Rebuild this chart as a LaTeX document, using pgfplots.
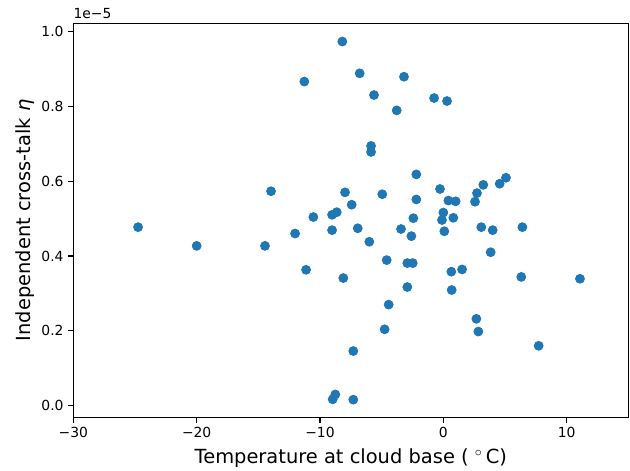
\documentclass[border=0pt]{standalone}
\usepackage{pgfplots}
\pgfplotsset{compat=1.18}
\usepackage{fontspec}
\setmainfont{DejaVu Sans}
\definecolor{tabblue}{HTML}{1F77B4}
\begin{document}
\begin{tikzpicture}
\begin{axis}[
  at={(0,0)}, anchor=south west,
  scale only axis, width=399.6pt, height=284pt,
  xmin=-30, xmax=15, ymin=-0.032, ymax=1.022,
  xtick={-30,-20,-10,0,10},
  xticklabels={−30,−20,−10,0,10},
  ytick={0,0.2,0.4,0.6,0.8,1.0},
  yticklabels={0.0,0.2,0.4,0.6,0.8,1.0},
  tick align=outside, xtick pos=left, ytick pos=left,
  major tick length=3.5pt,
  every tick/.style={black, line width=0.8pt},
  axis line style={line width=0.8pt},
  tick label style={font=\fontsize{10}{12}\selectfont},
  xlabel={Temperature at cloud base ( $^\circ$\,C)},
  ylabel={Independent cross-talk \textit{η}},
  label style={font=\fontsize{14}{16}\selectfont},
  xlabel style={yshift=-1pt},
  ylabel style={yshift=-2pt},
  clip=false,
]
\addplot[only marks, mark=*, mark size=3.2pt, color=tabblue, mark options={fill=tabblue, draw=tabblue, line width=0.6pt}] coordinates {
(-8.19,0.973) (-11.27,0.866) (-6.78,0.888) (-5.62,0.830) (-5.86,0.694)
(-5.86,0.678) (-13.97,0.573) (-7.97,0.570) (-7.43,0.537) (-10.54,0.504)
(-9.02,0.510) (-8.64,0.517) (-24.75,0.477) (-12.02,0.460) (-9.02,0.469)
(-6.94,0.474) (-6.0,0.438) (-3.19,0.879) (-3.78,0.789) (-0.75,0.822)
(0.30,0.814) (-2.19,0.618) (-4.95,0.565) (-0.27,0.579) (5.08,0.609)
(4.57,0.593) (3.24,0.590) (2.73,0.568) (2.57,0.545) (-2.19,0.551)
(0.41,0.548) (1.0,0.546) (0.0,0.516) (-0.11,0.496) (0.81,0.502)
(-2.43,0.501) (-3.43,0.472) (0.08,0.466) (3.08,0.477) (4.0,0.469)
(6.41,0.477) (-2.59,0.453) (3.84,0.410) (-4.59,0.389) (-2.92,0.381)
(-2.48,0.381) (0.65,0.358) (1.52,0.364) (-8.11,0.341) (6.32,0.344)
(11.08,0.339) (-2.92,0.317) (0.68,0.309) (-4.43,0.270) (2.68,0.232)
(-4.76,0.204) (2.84,0.198) (7.73,0.160) (-7.30,0.146) (-8.97,0.017)
(-8.76,0.030) (-7.30,0.016) (-20.0,0.427) (-14.46,0.427) (-11.13,0.363)
};
\node[anchor=south west, inner sep=0pt, font=\fontsize{10}{12}\selectfont] at (rel axis cs:0,1) [yshift=3pt] {1e−5};
\end{axis}
\pgfresetboundingbox
\path[use as bounding box] (-52.8pt,-37.7pt) rectangle (400.8pt,300.7pt);
\end{tikzpicture}
\end{document}
